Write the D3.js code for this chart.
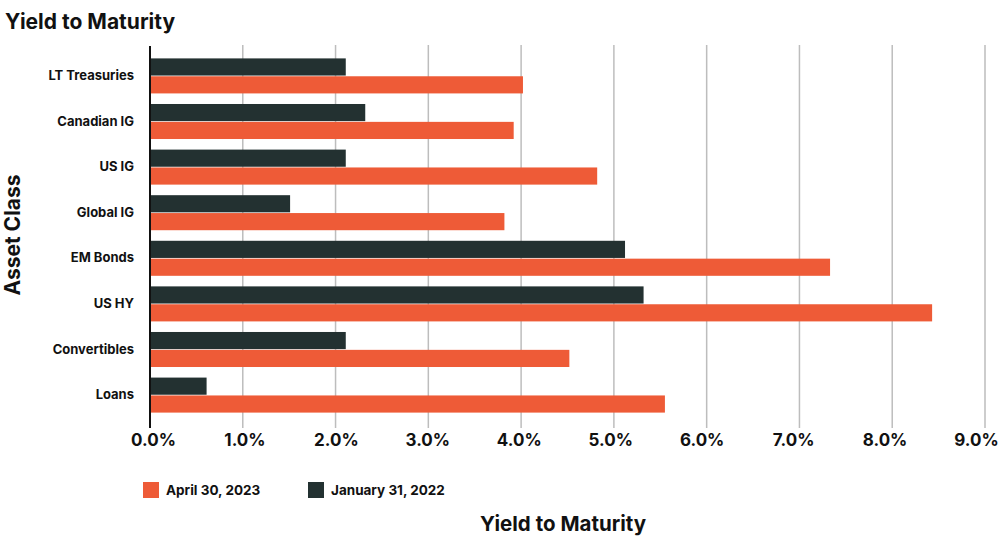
<!DOCTYPE html>
<html><head><meta charset="utf-8">
<script src="https://cdn.jsdelivr.net/npm/d3@7"></script>
<style>body{margin:0;background:#fff}svg{display:block}text{font-family:Inter,Lato,sans-serif;font-weight:700;fill:#111}</style>
</head><body><div id="chart"></div>
<script>
const categories = ["LT Treasuries","Canadian IG","US IG","Global IG","EM Bonds","US HY","Convertibles","Loans"];
const seriesNames = ["January 31, 2022","April 30, 2023"];
const jan2022 = [2.11, 2.32, 2.11, 1.51, 5.12, 5.32, 2.11, 0.61];
const apr2023 = [4.02, 3.92, 4.82, 3.82, 7.33, 8.43, 4.52, 5.55];
const xTicks = [0,1,2,3,4,5,6,7,8,9];
const legendOrder = ["April 30, 2023","January 31, 2022"];
const colors = {"January 31, 2022":"#233131","April 30, 2023":"#EE5B37"};

const W=1000,H=550;
const FONT="Inter,Lato,sans-serif";
const svg=d3.select("#chart").append("svg").attr("width",W).attr("height",H);
const x=d3.scaleLinear().domain([0,9]).range([150,985]);
// tick labels in the reference sit on a slightly tighter spacing than the grid
const xLabel=d3.scaleLinear().domain([0,9]).range([153,976]);
const y=d3.scaleBand().domain(categories).range([47,424]).paddingInner(0.232).paddingOuter(0.25);
const yi=d3.scaleBand().domain(seriesNames).range([0,y.bandwidth()]).paddingInner(0.04);
const series={"January 31, 2022":jan2022,"April 30, 2023":apr2023};

// gridlines
svg.append("g").selectAll("line").data(xTicks.filter(d=>d>0)).join("line")
 .attr("x1",d=>x(d)).attr("x2",d=>x(d)).attr("y1",45).attr("y2",428)
 .attr("stroke","#bdbdbd").attr("stroke-width",1.5);

// bars
categories.forEach((c,i)=>{
  seriesNames.forEach(s=>{
    svg.append("rect").attr("x",x(0)).attr("y",y(c)+yi(s))
      .attr("width",x(series[s][i])-x(0)).attr("height",yi.bandwidth())
      .attr("fill",colors[s]);
  });
});

// y axis line
svg.append("line").attr("x1",x(0)).attr("x2",x(0)).attr("y1",46).attr("y2",428).attr("stroke","#111").attr("stroke-width",2);

// x tick labels via axis
const xAxis=svg.append("g").attr("transform","translate(0,424)")
 .call(d3.axisBottom(xLabel).tickValues(xTicks).tickFormat(d=>d.toFixed(1)+"%").tickSize(0).tickPadding(10));
xAxis.select(".domain").remove();
xAxis.selectAll("text").style("font-size","17px").style("font-family",FONT).style("font-weight","700").attr("fill","#111");

// y labels via axis
const yAxis=svg.append("g").attr("transform","translate(134,0)")
 .call(d3.axisLeft(y).tickSize(0).tickPadding(0));
yAxis.select(".domain").remove();
yAxis.selectAll("text").style("font-size","13px").style("font-family",FONT).style("font-weight","700").attr("fill","#111");

// title
svg.append("text").attr("x",5).attr("y",29).style("font-size","21px").text("Yield to Maturity");
// y title
svg.append("text").attr("transform","translate(20,235) rotate(-90)").attr("text-anchor","middle").style("font-size","21px").text("Asset Class");
// x title
svg.append("text").attr("x",563).attr("y",531).attr("text-anchor","middle").style("font-size","20.5px").text("Yield to Maturity");

// legend
const lx=[143,308];
legendOrder.forEach((s,i)=>{
  svg.append("rect").attr("x",lx[i]).attr("y",482).attr("width",16).attr("height",16).attr("fill",colors[s]);
  svg.append("text").attr("x",lx[i]+23).attr("y",495).style("font-size","13.5px").text(s);
});
</script></body></html>
